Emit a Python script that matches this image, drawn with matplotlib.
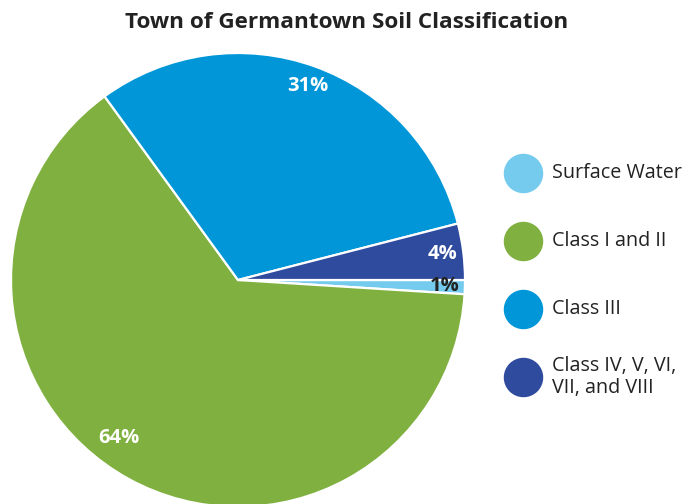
import numpy as np
import matplotlib.pyplot as plt

plt.rcParams['font.family'] = ['Open Sans', 'DejaVu Sans']

# Данные
categories = ['Surface Water', 'Class I and II', 'Class III', 'Class IV, V, VI,\nVII, and VIII']
shares = [1, 64, 31, 4]
colors = ['#75CBEE', '#80B140', '#0096D8', '#2F4B9E']
pct_colors = ['#222222', 'white', 'white', 'white']

W, H = 693, 504
fig = plt.figure(figsize=(W / 100, H / 100), dpi=100)
ax = fig.add_axes([0, 0, 1, 1])

cx, cy, r = 238, H - 280, 227
wedges, texts, autotexts = ax.pie(
    shares, colors=colors, startangle=0, counterclock=False,
    center=(cx, cy), radius=r,
    wedgeprops=dict(edgecolor='white', linewidth=1.6),
    autopct='%1.0f%%', pctdistance=0.91,
    textprops=dict(fontsize=14.5, fontweight='bold'))

for t, c in zip(autotexts, pct_colors):
    t.set_color(c)

# метка 64% сдвинута, как в оригинале
ang = np.deg2rad(233)
autotexts[1].set_position((cx + 0.87 * r * np.cos(ang), cy + 0.87 * r * np.sin(ang)))

ax.set_xlim(0, W)
ax.set_ylim(0, H)
ax.set_aspect('equal')
ax.axis('off')

# Легенда
for i, (lab, col) in enumerate(zip(categories, colors)):
    y = H - (173 + i * 68)
    ax.scatter([523], [y], s=38 ** 2 * 0.52, color=col, clip_on=False)
    ax.text(552, y, lab, fontsize=14.2, va='center', ha='left', color='#222222',
            linespacing=1.15)

ax.text(W / 2, H - 22, 'Town of Germantown Soil Classification', fontsize=16.2,
        fontweight='bold', ha='center', va='center', color='#222222')

fig.savefig('out.png', dpi=100)
